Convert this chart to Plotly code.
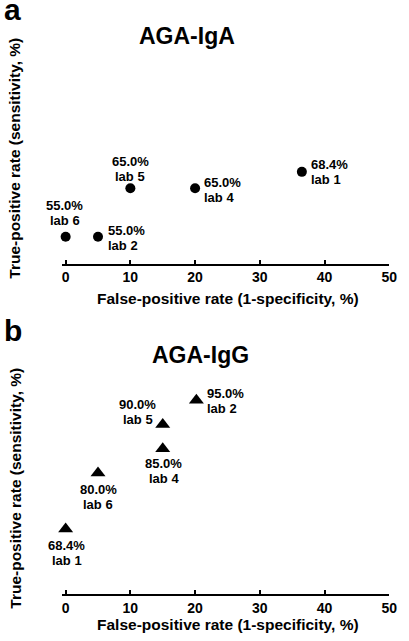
import plotly.graph_objects as go

# Panel a: AGA-IgA
iga_labs = [1, 2, 4, 5, 6]
iga_fpr = [36.5, 5.0, 20.0, 10.0, 0.0]
iga_tpr = [68.4, 55.0, 65.0, 65.0, 55.0]

# Panel b: AGA-IgG
igg_labs = [1, 2, 4, 5, 6]
igg_fpr = [0.0, 20.2, 15.0, 15.0, 5.0]
igg_tpr = [68.4, 95.0, 85.0, 90.0, 80.0]

x_ticks = [0, 10, 20, 30, 40, 50]

# label placement (xanchor, xshift px, yshift px of label block centre)
iga_place = [("left", 7, 0), ("left", 8, -1), ("left", 7, -2), ("center", 0, 19), ("center", -1, 24)]
igg_place = [("center", 1, -24), ("left", 9, -1), ("center", 1, -22), ("center", -25, 12), ("center", 0, -24)]

W, H = 409, 641
FONT = "Liberation Sans, Arial, sans-serif"


def py(px):
    return 1 - px / H


def px_x(px):
    return px / W


def bold(s):
    return dict(family=FONT, size=s, color="black", weight="bold")


fig = go.Figure()
fig.add_trace(go.Scatter(
    x=iga_fpr, y=iga_tpr, mode="markers", marker=dict(symbol="circle", size=10, color="black"),
    xaxis="x", yaxis="y", cliponaxis=False, showlegend=False, hoverinfo="x+y"))
fig.add_trace(go.Scatter(
    x=igg_fpr, y=igg_tpr, mode="markers", marker=dict(symbol="triangle-up", size=13, color="black"),
    xaxis="x2", yaxis="y2", cliponaxis=False, showlegend=False, hoverinfo="x+y"))

xcommon = dict(range=[-0.6, 50], domain=[px_x(63), px_x(397)], tickvals=x_ticks,
               showline=True, linecolor="black", linewidth=2, ticks="inside",
               ticklen=4, tickwidth=2, tickcolor="black", showgrid=False, zeroline=False,
               tickfont=bold(14))
ycommon = dict(showline=False, showticklabels=False, ticks="", showgrid=False, zeroline=False)

fig.update_layout(
    width=W, height=H, margin=dict(l=0, r=0, t=0, b=0),
    paper_bgcolor="white", plot_bgcolor="white",
    xaxis=dict(anchor="y", **xcommon),
    xaxis2=dict(anchor="y2", **xcommon),
    yaxis=dict(domain=[py(263.5), py(18.6)], range=[49.5, 100], anchor="x", **ycommon),
    yaxis2=dict(domain=[py(594), py(376)], range=[55, 100], anchor="x2", **ycommon),
)

ann = []
for (xr, yr, labs, xs, ys, place) in [("x", "y", iga_labs, iga_fpr, iga_tpr, iga_place),
                                      ("x2", "y2", igg_labs, igg_fpr, igg_tpr, igg_place)]:
    for l, xv, yv, (anc, dx, dy) in zip(labs, xs, ys, place):
        for line, off in [(f"{yv:.1f}%", 7.5), (f"lab {l}", -7.5)]:
            ann.append(dict(text=line, x=xv, y=yv, xref=xr, yref=yr, showarrow=False,
                            xanchor=anc, yanchor="middle", xshift=dx, yshift=dy + off,
                            font=bold(13)))

paper_ann = [
    dict(text="a", x=px_x(13), y=py(10), font=bold(30)),
    dict(text="b", x=px_x(13), y=py(330), font=bold(30)),
    dict(text="AGA-IgA", x=px_x(190.5), y=py(36), font=bold(23)),
    dict(text="AGA-IgG", x=px_x(204), y=py(355), font=bold(23)),
    dict(text="False-positive rate (1-specificity, %)", x=px_x(233), y=py(298), font=bold(15.5)),
    dict(text="False-positive rate (1-specificity, %)", x=px_x(233), y=py(624), font=bold(15.5)),
    dict(text="True-positive rate (sensitivity, %)", x=px_x(15), y=py(158), font=bold(15.5), textangle=-90),
    dict(text="True-positive rate (sensitivity, %)", x=px_x(15), y=py(488), font=bold(15.5), textangle=-90),
]
for a in paper_ann:
    a.update(xref="paper", yref="paper", showarrow=False, xanchor="center", yanchor="middle")
fig.update_layout(annotations=ann + paper_ann)

fig.write_html("out.html", config={"displayModeBar": False},
               post_script="document.body.style.margin='0';document.body.style.overflow='hidden';")
